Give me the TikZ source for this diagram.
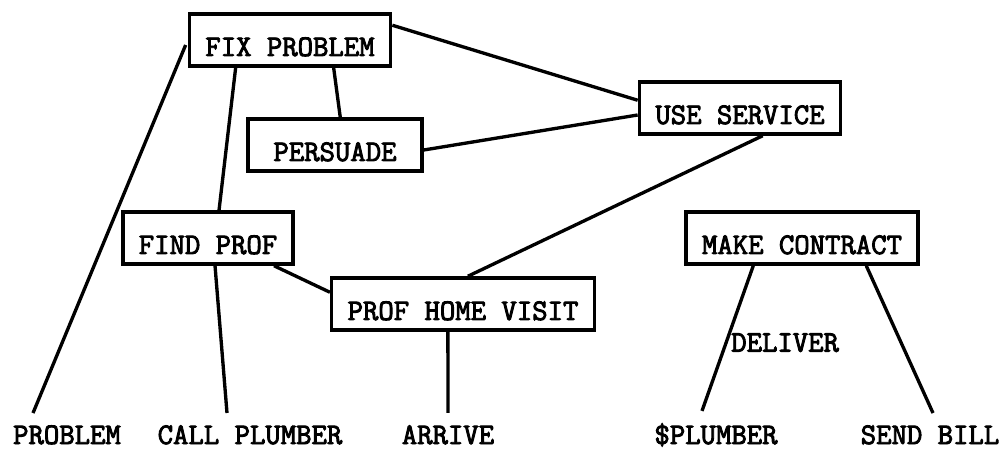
\documentclass[tikz,border=0pt]{standalone}
\usepackage{fontspec}
\setmonofont{Latin Modern Mono}[AutoFakeBold=3]
\usetikzlibrary{calc}

\begin{document}
\begin{tikzpicture}[
    x=0.02cm, y=-0.02cm,
    tw/.style={font=\fontsize{17}{20}\selectfont\ttfamily\bfseries},
    act/.style={draw, tw, line width=2pt, inner xsep=0.32cm, inner ysep=0pt, text height=0.84cm, text depth=0.2cm},
    word/.style={tw, inner sep=0pt, anchor=base},
    link/.style={line width=1.9pt}
]
\useasboundingbox (0,0) rectangle (1003,449);

\node[act] (fix) at (290,40) {FIX PROBLEM};
\node[act] (use) at (740,108) {USE SERVICE};
\node[act, minimum width=3.48cm] (pers) at (335,145) {PERSUADE};
\node[act] (find) at (208,238) {FIND PROF};
\node[act] (visit) at (463,304) {PROF HOME VISIT};
\node[act] (contract) at (802,238) {MAKE CONTRACT};

\node[word] (problem) at (67,444) {PROBLEM};
\node[word] (call) at (250,444) {CALL PLUMBER};
\node[word] (arrive) at (448,444) {ARRIVE};
\node[word] (dollar) at (716,444) {\$PLUMBER};
\node[word] (bill) at (930,444) {SEND BILL};

\draw[link] ($(fix.west)+(-2,5)$) -- ($(problem.north)+(-34,-12)$);
\draw[link] ($(fix.south west)+(48,0)$) -- ($(find.north west)+(98,0)$);
\draw[link] ($(fix.south west)+(146,0)$) -- ($(pers.north west)+(94,0)$);
\draw[link] ($(fix.north east)+(0,13)$) -- ($(use.north west)+(0,20)$);
\draw[link] ($(pers.east)+(0,5)$) -- ($(use.west)+(0,7)$);
\draw[link] ($(use.south west)+(125,0)$) -- ($(visit.north west)+(138,0)$);
\draw[link] ($(find.south east)+(-21,0)$) -- ($(visit.north west)+(0,16)$);
\draw[link] ($(find.south west)+(94,0)$) -- ($(call.north)+(-23,-12)$);
\draw[link] ($(visit.south west)+(118,0)$) -- ($(arrive.north)+(0,-12)$);
\draw[link] ($(contract.south west)+(69,0)$) -- node[pos=0.53, tw, anchor=west, inner sep=2pt] (deliver) {DELIVER} ($(dollar.north)+(-14,-12)$);
\draw[link] ($(contract.south west)+(182,0)$) -- ($(bill.north)+(3,-12)$);
\end{tikzpicture}
\end{document}
